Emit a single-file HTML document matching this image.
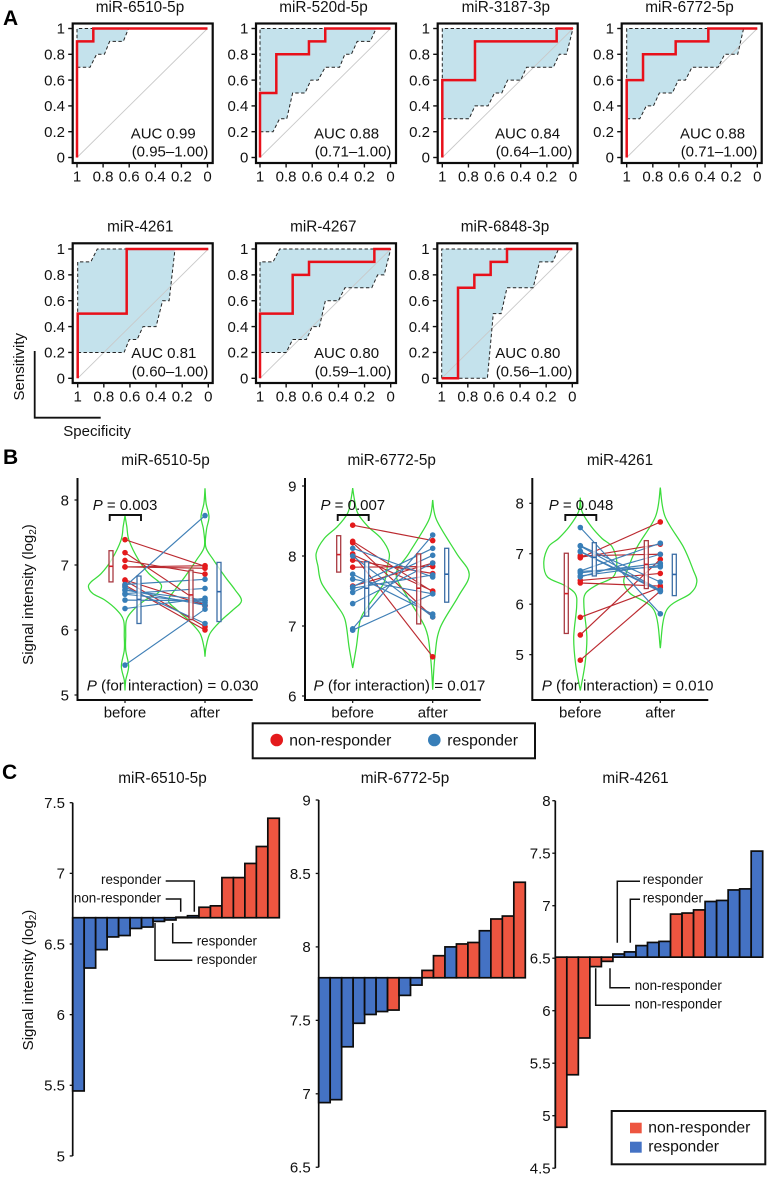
<!DOCTYPE html>
<html lang="en">
<head>
<meta charset="utf-8">
<title>miRNA ROC, signal intensity and waterfall panels</title>
<style>
html,body{margin:0;padding:0;background:#fff;width:768px;height:1177px;overflow:hidden}
svg{display:block}
text{font-family:"Liberation Sans",Arial,sans-serif;font-size:15px;fill:#111}
.panel-letter{font-weight:bold;font-size:21px;fill:#000}
.title{font-size:15.3px}
.inter{font-size:15.2px}
.ann{font-size:13.4px}
.leg{font-size:15.7px}
</style>
</head>
<body>
<svg id="figure" xmlns="http://www.w3.org/2000/svg" width="768" height="1177" viewBox="0 0 768 1177">
  <g id="marks"></g>

  <g>
    <text class="panel-letter" x="3" y="25">A</text>
    <text class="title" x="140" y="12" text-anchor="middle">miR-6510-5p</text>
    <text class="title" x="323.5" y="12" text-anchor="middle">miR-520d-5p</text>
    <text class="title" x="505.8" y="12" text-anchor="middle">miR-3187-3p</text>
    <text class="title" x="689.5" y="12" text-anchor="middle">miR-6772-5p</text>
    <text class="title" x="140.3" y="231.7" text-anchor="middle">miR-4261</text>
    <text class="title" x="323.3" y="231.7" text-anchor="middle">miR-4267</text>
    <text class="title" x="505" y="231.7" text-anchor="middle">miR-6848-3p</text>

    <text x="130.7" y="138.3">AUC 0.99</text>
    <text x="131.7" y="156.7">(0.95–1.00)</text>
    <text x="314" y="138.3">AUC 0.88</text>
    <text x="314.7" y="156.7">(0.71–1.00)</text>
    <text x="495" y="138.3">AUC 0.84</text>
    <text x="495.7" y="156.7">(0.64–1.00)</text>
    <text x="680" y="138.3">AUC 0.88</text>
    <text x="680.7" y="156.7">(0.71–1.00)</text>
    <text x="131.3" y="358">AUC 0.81</text>
    <text x="131.7" y="376.7">(0.60–1.00)</text>
    <text x="314" y="358">AUC 0.80</text>
    <text x="314.7" y="376.7">(0.59–1.00)</text>
    <text x="495.3" y="358">AUC 0.80</text>
    <text x="495.7" y="376.7">(0.56–1.00)</text>

    <path d="M34.7 351V417.7H100.7" fill="none" stroke="#111" stroke-width="1.8"/>
    <text transform="translate(24,366.7) rotate(-90)" text-anchor="middle">Sensitivity</text>
    <text x="63.3" y="436">Specificity</text>
  </g>

  <g>
    <text class="panel-letter" x="3" y="464">B</text>
    <text class="title" x="165.5" y="465" text-anchor="middle">miR-6510-5p</text>
    <text class="title" x="391.7" y="465" text-anchor="middle">miR-6772-5p</text>
    <text class="title" x="620" y="465" text-anchor="middle">miR-4261</text>
    <text transform="translate(33,594.5) rotate(-90)" text-anchor="middle">Signal intensity (log<tspan dy="3" font-size="10">2</tspan><tspan dy="-3">)</tspan></text>

    <text x="92.7" y="510"><tspan font-style="italic">P</tspan> = 0.003</text>
    <text x="320.5" y="510"><tspan font-style="italic">P</tspan> = 0.007</text>
    <text x="548.7" y="510"><tspan font-style="italic">P</tspan> = 0.048</text>
    <path d="M109.7 521V515H141V521" fill="none" stroke="#111" stroke-width="1.9"/>
    <path d="M337.7 521V515H368.7V521" fill="none" stroke="#111" stroke-width="1.9"/>
    <path d="M565.3 521V515H596.3V521" fill="none" stroke="#111" stroke-width="1.9"/>
    <text class="inter" x="86.7" y="690.7"><tspan font-style="italic">P</tspan> (for interaction) = 0.030</text>
    <text class="inter" x="313.5" y="690.7"><tspan font-style="italic">P</tspan> (for interaction) = 0.017</text>
    <text class="inter" x="541.7" y="690.7"><tspan font-style="italic">P</tspan> (for interaction) = 0.010</text>

    <g>
      <rect x="252.7" y="723.3" width="282.3" height="35" fill="#fff" stroke="#111" stroke-width="2"/>
      <circle cx="276.7" cy="740" r="6.3" fill="#e41a1c"/>
      <text class="leg" x="289.3" y="745.7">non-responder</text>
      <circle cx="434.3" cy="740" r="6.3" fill="#377eb8"/>
      <text class="leg" x="447.3" y="745.7">responder</text>
    </g>
  </g>

  <g>
    <text class="panel-letter" x="2" y="779">C</text>
    <text class="title" x="162.5" y="783" text-anchor="middle">miR-6510-5p</text>
    <text class="title" x="405" y="783" text-anchor="middle">miR-6772-5p</text>
    <text class="title" x="635.5" y="783" text-anchor="middle">miR-4261</text>
    <text transform="translate(33,980) rotate(-90)" text-anchor="middle">Signal intensity (log<tspan dy="3" font-size="10">2</tspan><tspan dy="-3">)</tspan></text>

    <g fill="none">
      <path d="M165.7 881H194.3V911.7" stroke="#111" stroke-width="1.5"/>
      <path d="M165.7 899H180.7V911.7" stroke="#111" stroke-width="1.5"/>
      <path d="M172.7 923V942.7H192.3" stroke="#111" stroke-width="1.5"/>
      <path d="M155 923V960.3H192.3" stroke="#111" stroke-width="1.5"/>
    </g>
    <text class="ann" x="161.3" y="884" text-anchor="end">responder</text>
    <text class="ann" x="161" y="902.7" text-anchor="end">non-responder</text>
    <text class="ann" x="196.7" y="945.5">responder</text>
    <text class="ann" x="196.7" y="964">responder</text>

    <g fill="none">
      <path d="M617.3 942.7V881.3H640" stroke="#111" stroke-width="1.5"/>
      <path d="M630.3 942.7V899.3H640" stroke="#111" stroke-width="1.5"/>
      <path d="M610 968.3V987.7H630" stroke="#111" stroke-width="1.5"/>
      <path d="M595.7 968.3V1005.3H630" stroke="#111" stroke-width="1.5"/>
    </g>
    <text class="ann" x="642.7" y="884">responder</text>
    <text class="ann" x="642.7" y="902.3">responder</text>
    <text class="ann" x="634.7" y="990">non-responder</text>
    <text class="ann" x="634.7" y="1008.7">non-responder</text>

    <g>
      <rect x="611.7" y="1111" width="153.6" height="53.3" fill="#fff" stroke="#111" stroke-width="2"/>
      <rect x="630" y="1122.7" width="11.7" height="10.6" fill="#ed5540"/>
      <text class="leg" x="648.3" y="1132.7">non-responder</text>
      <rect x="630" y="1141.7" width="11.7" height="11" fill="#4472c4"/>
      <text class="leg" x="648.3" y="1151.3">responder</text>
    </g>
  </g>
</svg>

<script>
/* ---------- Panel A data: ROC curves (specificity, sensitivity) ---------- */
const rocTickValues = [1, 0.8, 0.6, 0.4, 0.2, 0];
const rocTickLabels = ['1', '0.8', '0.6', '0.4', '0.2', '0'];

const roc6510RedSpec = [1, 1, 0.875, 0.875, 0];
const roc6510RedSens = [0, 0.9, 0.9, 1, 1];
const roc6510LowSpec = [1, 0.9, 0.85, 0.79, 0.75, 0.645, 0.605];
const roc6510LowSens = [0.7, 0.7, 0.8, 0.8, 0.9, 0.9, 1];
const roc6510UpSpec = [1, 1];
const roc6510UpSens = [0.7, 1];

const roc520dRedSpec = [1, 1, 0.875, 0.875, 0.625, 0.625, 0.5, 0.5, 0];
const roc520dRedSens = [0, 0.5, 0.5, 0.8, 0.8, 0.9, 0.9, 1, 1];
const roc520dLowSpec = [1, 0.9, 0.85, 0.795, 0.75, 0.655, 0.61, 0.555, 0.5, 0.39, 0.35, 0.3, 0.255, 0.155, 0.11];
const roc520dLowSens = [0.2, 0.2, 0.3, 0.3, 0.5, 0.5, 0.6, 0.6, 0.7, 0.7, 0.8, 0.8, 0.9, 0.9, 1];
const roc520dUpSpec = [1, 1];
const roc520dUpSens = [0.2, 1];

const roc3187RedSpec = [1, 1, 0.75, 0.75, 0.125, 0.125, 0];
const roc3187RedSens = [0, 0.6, 0.6, 0.9, 0.9, 1, 1];
const roc3187LowSpec = [1, 0.795, 0.75, 0.65, 0.6, 0.545, 0.5, 0.4, 0.355, 0.15, 0.105, 0.05, 0];
const roc3187LowSens = [0.3, 0.3, 0.4, 0.4, 0.5, 0.5, 0.6, 0.6, 0.7, 0.7, 0.8, 0.8, 1];
const roc3187UpSpec = [1, 1];
const roc3187UpSens = [0.3, 1];

const roc6772RedSpec = [1, 1, 0.875, 0.875, 0.625, 0.625, 0.375, 0.375, 0];
const roc6772RedSens = [0, 0.6, 0.6, 0.8, 0.8, 0.9, 0.9, 1, 1];
const roc6772LowSpec = [1, 0.9, 0.85, 0.795, 0.75, 0.65, 0.605, 0.55, 0.5, 0.3, 0.25, 0.15, 0.105];
const roc6772LowSens = [0.3, 0.3, 0.4, 0.4, 0.5, 0.5, 0.6, 0.6, 0.7, 0.7, 0.8, 0.8, 1];
const roc6772UpSpec = [1, 1];
const roc6772UpSens = [0.3, 1];

const roc4261RedSpec = [1, 1, 0.625, 0.625, 0];
const roc4261RedSens = [0, 0.5, 0.5, 1, 1];
const roc4261LowSpec = [1, 0.645, 0.605, 0.545, 0.5, 0.4, 0.35, 0.3, 0.255];
const roc4261LowSens = [0.2, 0.2, 0.3, 0.3, 0.4, 0.4, 0.6, 0.6, 1];
const roc4261UpSpec = [1, 1, 0.9, 0.85];
const roc4261UpSens = [0.2, 0.9, 0.9, 1];

const roc4267RedSpec = [1, 1, 0.75, 0.75, 0.625, 0.625, 0.125, 0.125, 0];
const roc4267RedSens = [0, 0.5, 0.5, 0.8, 0.8, 0.9, 0.9, 1, 1];
const roc4267LowSpec = [1, 0.8, 0.75, 0.645, 0.6, 0.545, 0.5, 0.4, 0.35, 0.145, 0.1, 0.05, 0];
const roc4267LowSens = [0.2, 0.2, 0.3, 0.3, 0.4, 0.4, 0.6, 0.6, 0.7, 0.7, 0.8, 0.8, 1];
const roc4267UpSpec = [1, 1, 0.9, 0.85];
const roc4267UpSens = [0.2, 0.9, 0.9, 1];

const roc6848RedSpec = [1, 0.875, 0.875, 0.75, 0.75, 0.625, 0.625, 0.5, 0.5, 0];
const roc6848RedSens = [0, 0, 0.7, 0.7, 0.8, 0.8, 0.9, 0.9, 1, 1];
const roc6848LowSpec = [1, 0.65, 0.605, 0.545, 0.5, 0.3, 0.25, 0.15, 0.105];
const roc6848LowSens = [0, 0, 0.5, 0.5, 0.7, 0.7, 0.9, 0.9, 1];
const roc6848UpSpec = [1, 1];
const roc6848UpSens = [0, 1];

/* ---------- Panel B data: paired before / after values ---------- */
const pairedCategories = ['before', 'after'];

const b1TickValues = [8, 7, 6, 5];
const b1TickLabels = ['8', '7', '6', '5'];
const b1BeforeNon = [7.39, 7.19, 7.07, 6.97, 6.97, 6.77, 6.76, 6.69];
const b1AfterNon = [6.98, 6.37, 6.86, 6.99, 6.95, 6.38, 6.05, 6.0];
const b1BeforeRes = [5.46, 6.33, 6.46, 6.55, 6.56, 6.61, 6.62, 6.66, 6.67, 6.70];
const b1AfterRes = [6.32, 6.49, 6.45, 6.42, 6.64, 6.46, 6.38, 6.10, 7.76, 6.78];
const b1BoxLow = [6.74, 6.10, 6.16, 6.13];
const b1BoxMed = [6.98, 6.47, 6.54, 6.59];
const b1BoxHigh = [7.22, 6.83, 6.92, 7.04];
const b1ViolinBeforeVal = [7.76, 7.59, 7.38, 7.08, 6.87, 6.74, 6.66, 6.56, 6.46, 6.31, 6.15, 5.90, 5.69, 5.44, 5.23, 5.07];
const b1ViolinBeforeDen = [0, 0.05, 0.11, 0.37, 0.65, 0.93, 1, 0.88, 0.55, 0.23, 0.04, 0.02, 0.02, 0.1, 0.02, 0];
const b1ViolinAfterVal = [8.18, 7.95, 7.74, 7.54, 7.28, 7.08, 6.82, 6.62, 6.45, 6.31, 6.15, 5.95, 5.74, 5.59];
const b1ViolinAfterDen = [0, 0.03, 0.11, 0.04, 0.02, 0.23, 0.55, 0.82, 1, 0.77, 0.45, 0.14, 0.03, 0];

const b2TickValues = [9, 8, 7, 6];
const b2TickLabels = ['9', '8', '7', '6'];
const b2BeforeNon = [8.44, 8.21, 8.19, 8.03, 8.02, 7.94, 7.84, 7.57];
const b2AfterNon = [8.22, 7.49, 7.13, 6.56, 7.50, 7.75, 7.85, 7.90];
const b2BeforeRes = [8.11, 8.00, 7.74, 7.67, 7.56, 7.54, 7.48, 7.32, 6.96, 6.94];
const b2AfterRes = [7.70, 7.13, 7.17, 7.46, 8.11, 7.73, 8.01, 7.90, 8.30, 7.46];
const b2BoxLow = [7.77, 7.14, 7.03, 7.34];
const b2BoxMed = [8.02, 7.54, 7.54, 7.74];
const b2BoxHigh = [8.29, 7.92, 8.03, 8.11];
const b2ViolinBeforeVal = [8.97, 8.80, 8.61, 8.42, 8.25, 8.04, 7.85, 7.61, 7.30, 7.09, 6.70, 6.40];
const b2ViolinBeforeDen = [0, 0.05, 0.14, 0.42, 0.78, 1, 0.95, 0.85, 0.44, 0.21, 0.10, 0];
const b2ViolinAfterVal = [8.80, 8.51, 8.04, 7.74, 7.42, 6.97, 6.56, 6.09];
const b2ViolinAfterDen = [0, 0.11, 0.65, 1, 0.70, 0.20, 0.06, 0];

const b3TickValues = [8, 7, 6, 5];
const b3TickLabels = ['8', '7', '6', '5'];
const b3BeforeNon = [4.89, 5.39, 5.74, 6.42, 6.47, 6.92, 6.93, 6.96];
const b3AfterNon = [6.26, 6.89, 6.33, 6.36, 6.61, 7.63, 7.19, 6.99];
const b3BeforeRes = [7.52, 7.16, 7.15, 7.05, 7.04, 6.66, 6.65, 6.62, 6.56, 6.54];
const b3AfterRes = [5.81, 6.44, 6.28, 6.27, 6.25, 7.21, 6.74, 6.81, 6.77, 6.99];
const b3BoxLow = [5.42, 6.56, 6.31, 6.17];
const b3BoxMed = [6.21, 6.93, 6.79, 6.59];
const b3BoxHigh = [7.01, 7.22, 7.26, 6.99];
const b3ViolinBeforeVal = [8.11, 7.83, 7.54, 7.30, 7.14, 6.84, 6.54, 6.38, 6.21, 5.95, 5.35, 4.82, 4.29];
const b3ViolinBeforeDen = [0, 0.05, 0.30, 0.60, 0.87, 1, 0.90, 0.45, 0.14, 0.10, 0.18, 0.13, 0];
const b3ViolinAfterVal = [8.31, 7.74, 7.14, 6.68, 6.44, 6.21, 5.88, 5.13];
const b3ViolinAfterDen = [0, 0.13, 0.63, 0.90, 1, 0.82, 0.17, 0];

/* ---------- Panel C data: sorted bars around the median ---------- */
const c1TickValues = [7.5, 7, 6.5, 6, 5.5, 5];
const c1TickLabels = ['7.5', '7', '6.5', '6', '5.5', '5'];
const c1Median = 6.686;
const c1Values = [5.46, 6.33, 6.46, 6.55, 6.56, 6.61, 6.62, 6.66, 6.67, 6.69, 6.70, 6.76, 6.77, 6.97, 6.97, 7.07, 7.19, 7.39];
const c1Groups = ['res', 'res', 'res', 'res', 'res', 'res', 'res', 'res', 'res', 'non', 'res', 'non', 'non', 'non', 'non', 'non', 'non', 'non'];

const c2TickValues = [9, 8.5, 8, 7.5, 7, 6.5];
const c2TickLabels = ['9', '8.5', '8', '7.5', '7', '6.5'];
const c2Median = 7.79;
const c2Values = [6.94, 6.96, 7.32, 7.48, 7.54, 7.56, 7.57, 7.67, 7.74, 7.84, 7.94, 8.00, 8.02, 8.03, 8.11, 8.19, 8.21, 8.44];
const c2Groups = ['res', 'res', 'res', 'res', 'res', 'res', 'non', 'res', 'res', 'non', 'non', 'res', 'non', 'non', 'res', 'non', 'non', 'non'];

const c3TickValues = [8, 7.5, 7, 6.5, 6, 5.5, 5, 4.5];
const c3TickLabels = ['8', '7.5', '7', '6.5', '6', '5.5', '5', '4.5'];
const c3Median = 6.51;
const c3Values = [4.89, 5.39, 5.74, 6.42, 6.47, 6.54, 6.56, 6.62, 6.65, 6.66, 6.92, 6.93, 6.96, 7.04, 7.05, 7.15, 7.16, 7.52];
const c3Groups = ['non', 'non', 'non', 'non', 'non', 'res', 'res', 'res', 'res', 'res', 'non', 'non', 'non', 'res', 'res', 'res', 'res', 'res'];

/* ---------- Drawing ---------- */
const SVGNS = 'http://www.w3.org/2000/svg';
const marks = document.getElementById('marks');

function make(parent, tag, attrs, content) {
  const el = document.createElementNS(SVGNS, tag);
  for (const k in attrs) el.setAttribute(k, attrs[k]);
  if (content !== undefined) el.textContent = content;
  parent.appendChild(el);
  return el;
}
function polyPath(xs, ys) {
  return xs.map((x, i) => (i ? 'L' : 'M') + x.toFixed(2) + ' ' + ys[i].toFixed(2)).join('');
}
function smoothThrough(pts, start) {
  let d = start ? 'M' + pts[0][0].toFixed(2) + ' ' + pts[0][1].toFixed(2) : '';
  for (let i = 0; i < pts.length - 1; i++) {
    const p0 = pts[Math.max(i - 1, 0)], p1 = pts[i], p2 = pts[i + 1], p3 = pts[Math.min(i + 2, pts.length - 1)];
    const c1x = p1[0] + (p2[0] - p0[0]) / 6, c1y = p1[1] + (p2[1] - p0[1]) / 6;
    const c2x = p2[0] - (p3[0] - p1[0]) / 6, c2y = p2[1] - (p3[1] - p1[1]) / 6;
    d += 'C' + c1x.toFixed(2) + ' ' + c1y.toFixed(2) + ' ' + c2x.toFixed(2) + ' ' + c2y.toFixed(2) + ' ' + p2[0].toFixed(2) + ' ' + p2[1].toFixed(2);
  }
  return d;
}

function drawRoc(key, g, redSpec, redSens, lowSpec, lowSens, upSpec, upSens) {
  const sx = s => g.x1 + (1 - s) * (g.x0 - g.x1);
  const sy = v => g.y0 + v * (g.y1 - g.y0);
  const group = make(marks, 'g', {});
  
  

  const upX = upSpec.map(sx).concat([sx(lowSpec[lowSpec.length - 1])]);
  const upY = upSens.map(sy).concat([sy(1)]);
  const lowX = lowSpec.map(sx);
  const lowY = lowSens.map(sy);

  const band = make(group, 'path', {
    d: polyPath(upX.concat(lowX.slice().reverse()), upY.concat(lowY.slice().reverse())) + 'Z',
    fill: '#c4e2ec', stroke: 'none'
  });
  
  

  const diagonal = make(group, 'line', { x1: sx(1), y1: sy(0), x2: sx(0), y2: sy(1), stroke: '#c9c9c9', 'stroke-width': 0.9 });
  
  

  const upper = make(group, 'path', { d: polyPath(upX, upY), fill: 'none', stroke: '#222', 'stroke-width': 1, 'stroke-dasharray': '3.4 2.4' });
  
  

  const lower = make(group, 'path', { d: polyPath(lowX, lowY), fill: 'none', stroke: '#222', 'stroke-width': 1, 'stroke-dasharray': '3.4 2.4' });
  
  

  const curve = make(group, 'path', { d: polyPath(redSpec.map(sx), redSens.map(sy)), fill: 'none', stroke: '#e8101a', 'stroke-width': 2.5 });
  
  

  const frame = make(group, 'rect', { x: g.left, y: g.top, width: g.right - g.left, height: g.bottom - g.top, fill: 'none', stroke: '#0c0c0c', 'stroke-width': 2.2 });
  
  

  rocTickValues.forEach((v, i) => {
    const yt = make(group, 'line', { x1: g.left - 4.5, x2: g.left, y1: sy(v), y2: sy(v), stroke: '#111', 'stroke-width': 1.4 });
    
    
    const yl = make(group, 'text', { x: g.left - 7.7, y: sy(v) + 5.2, 'text-anchor': 'end' }, rocTickLabels[i]);
    
    
    const xt = make(group, 'line', { x1: sx(v), x2: sx(v), y1: g.bottom, y2: g.bottom + 4.5, stroke: '#111', 'stroke-width': 1.4 });
    
    
    const xl = make(group, 'text', { x: sx(v), y: g.bottom + 18.7, 'text-anchor': 'middle' }, rocTickLabels[i]);
    
    
  });
}

function rocGeom(left, top, bottom, y1, y0, x1, x0) {
  return { left: left, right: left + 140, top: top, bottom: bottom, y1: y1, y0: y0, x1: x1, x0: x0 };
}

drawRoc('6510', rocGeom(72.7, 23.5, 163, 28.5, 157.5, 77, 207.5), roc6510RedSpec, roc6510RedSens, roc6510LowSpec, roc6510LowSens, roc6510UpSpec, roc6510UpSens);
drawRoc('520d', rocGeom(256, 23.5, 163, 28.5, 157.5, 260, 390.5), roc520dRedSpec, roc520dRedSens, roc520dLowSpec, roc520dLowSens, roc520dUpSpec, roc520dUpSens);
drawRoc('3187', rocGeom(437.7, 23.5, 163, 28.5, 157.5, 442.3, 573), roc3187RedSpec, roc3187RedSens, roc3187LowSpec, roc3187LowSens, roc3187UpSpec, roc3187UpSens);
drawRoc('6772', rocGeom(621.7, 23.5, 163, 28.5, 157.5, 626.7, 757.3), roc6772RedSpec, roc6772RedSens, roc6772LowSpec, roc6772LowSens, roc6772UpSpec, roc6772UpSens);
drawRoc('4261', rocGeom(72.7, 243.3, 383, 249, 378.3, 77.7, 208.3), roc4261RedSpec, roc4261RedSens, roc4261LowSpec, roc4261LowSens, roc4261UpSpec, roc4261UpSens);
drawRoc('4267', rocGeom(256, 243.3, 383, 249, 378.3, 260, 390.7), roc4267RedSpec, roc4267RedSens, roc4267LowSpec, roc4267LowSens, roc4267UpSpec, roc4267UpSens);
drawRoc('6848', rocGeom(437.3, 243.3, 383, 249, 378.3, 441.7, 572.3), roc6848RedSpec, roc6848RedSens, roc6848LowSpec, roc6848LowSens, roc6848UpSpec, roc6848UpSens);

function drawViolin(group, key, cx, sy, vals, dens) {
  const halfWidth = 36.5;
  const right = vals.map((v, i) => [cx + dens[i] * halfWidth, sy(v)]);
  const left = vals.map((v, i) => [cx - dens[i] * halfWidth, sy(v)]).reverse();
  const d = smoothThrough(right, true) + smoothThrough(left, false);
  const path = make(group, 'path', { d: d, fill: 'none', stroke: '#3bdc3b', 'stroke-width': 1.25 });
  
  
}

function drawPaired(key, g, tickValues, tickLabels, beforeNon, afterNon, beforeRes, afterRes, boxLow, boxMed, boxHigh, vbVal, vbDen, vaVal, vaDen) {
  const sy = v => g.yRef + (g.vRef - v) * g.pxPerUnit;
  const group = make(marks, 'g', {});
  
  

  drawViolin(group, key + '-before', g.xBefore, sy, vbVal, vbDen);
  drawViolin(group, key + '-after', g.xAfter, sy, vaVal, vaDen);

  const drawPairs = (before, after, color, lineColor, groupName) => {
    before.forEach((v, i) => {
      const link = make(group, 'line', { x1: g.xBefore, y1: sy(v), x2: g.xAfter, y2: sy(after[i]), stroke: lineColor, 'stroke-width': 1.15 });
      
      
    });
    before.forEach((v, i) => {
      const p1 = make(group, 'circle', { cx: g.xBefore, cy: sy(v), r: 2.8, fill: color });
      
      
      const p2 = make(group, 'circle', { cx: g.xAfter, cy: sy(after[i]), r: 2.8, fill: color });
      
      
    });
  };
  drawPairs(beforeNon, afterNon, '#e41a1c', '#bb2a30', 'non-responder');
  drawPairs(beforeRes, afterRes, '#377eb8', '#3f7fb6', 'responder');

  const boxX = [g.xBefore - 14, g.xBefore + 14, g.xAfter - 14, g.xAfter + 14];
  const boxColor = ['#a93a42', '#3c6ea6', '#a93a42', '#3c6ea6'];
  boxLow.forEach((low, i) => {
    const box = make(group, 'rect', { x: boxX[i] - 2, y: sy(boxHigh[i]), width: 4, height: sy(low) - sy(boxHigh[i]), fill: '#fff', 'fill-opacity': 0.75, stroke: boxColor[i], 'stroke-width': 1.3 });
    
    
    const med = make(group, 'line', { x1: boxX[i] - 2, x2: boxX[i] + 2, y1: sy(boxMed[i]), y2: sy(boxMed[i]), stroke: i % 2 ? '#2f66a8' : '#d02028', 'stroke-width': 1.6 });
    
    
  });

  const axes = make(group, 'path', { d: 'M' + g.axisX + ' ' + g.top + 'V' + g.bottom + 'H' + g.axisRight, fill: 'none', stroke: '#0c0c0c', 'stroke-width': 2 });
  
  

  tickValues.forEach((v, i) => {
    const t = make(group, 'line', { x1: g.axisX - 3, x2: g.axisX, y1: sy(v), y2: sy(v), stroke: '#111', 'stroke-width': 1.2 });
    
    
    const l = make(group, 'text', { x: g.axisX - 8.5, y: sy(v) + 5.3, 'text-anchor': 'end' }, tickLabels[i]);
    
    
  });
  [g.xBefore, g.xAfter].forEach((x, i) => {
    const t = make(group, 'line', { x1: x, x2: x, y1: g.bottom, y2: g.bottom + 3, stroke: '#111', 'stroke-width': 1.2 });
    
    
    const l = make(group, 'text', { x: x, y: 717.7, 'text-anchor': 'middle' }, pairedCategories[i]);
    
    
  });
}

drawPaired('6510', { axisX: 77.5, top: 478, bottom: 700, axisRight: 252.7, xBefore: 125, xAfter: 205, yRef: 500, vRef: 8, pxPerUnit: 65 },
  b1TickValues, b1TickLabels, b1BeforeNon, b1AfterNon, b1BeforeRes, b1AfterRes, b1BoxLow, b1BoxMed, b1BoxHigh, b1ViolinBeforeVal, b1ViolinBeforeDen, b1ViolinAfterVal, b1ViolinAfterDen);
drawPaired('6772', { axisX: 305, top: 478, bottom: 700, axisRight: 480.7, xBefore: 352.7, xAfter: 432.7, yRef: 486, vRef: 9, pxPerUnit: 70 },
  b2TickValues, b2TickLabels, b2BeforeNon, b2AfterNon, b2BeforeRes, b2AfterRes, b2BoxLow, b2BoxMed, b2BoxHigh, b2ViolinBeforeVal, b2ViolinBeforeDen, b2ViolinAfterVal, b2ViolinAfterDen);
drawPaired('4261', { axisX: 532.3, top: 478, bottom: 700, axisRight: 708.3, xBefore: 580.3, xAfter: 660.3, yRef: 503.3, vRef: 8, pxPerUnit: 50.45 },
  b3TickValues, b3TickLabels, b3BeforeNon, b3AfterNon, b3BeforeRes, b3AfterRes, b3BoxLow, b3BoxMed, b3BoxHigh, b3ViolinBeforeVal, b3ViolinBeforeDen, b3ViolinAfterVal, b3ViolinAfterDen);

function drawBars(key, g, tickValues, tickLabels, median, values, groups) {
  const sy = v => g.yRef + (g.vRef - v) * g.pxPerUnit;
  const group = make(marks, 'g', {});
  
  
  const barW = (g.barsRight - g.axisX) / values.length;
  values.forEach((v, i) => {
    const top = Math.min(sy(v), sy(median));
    const h = Math.abs(sy(v) - sy(median));
    const bar = make(group, 'rect', { x: g.axisX + i * barW, y: top, width: barW, height: h, fill: groups[i] === 'non' ? '#ed5540' : '#4472c4', stroke: '#0c0c0c', 'stroke-width': 1.7 });
    
    
  });
  const axis = make(group, 'line', { x1: g.axisX, x2: g.axisX, y1: sy(tickValues[0]), y2: sy(tickValues[tickValues.length - 1]), stroke: '#0c0c0c', 'stroke-width': 1.7 });
  
  
  tickValues.forEach((v, i) => {
    const t = make(group, 'line', { x1: g.axisX - 3, x2: g.axisX, y1: sy(v), y2: sy(v), stroke: '#111', 'stroke-width': 1.3 });
    
    
    const l = make(group, 'text', { x: g.axisX - g.labelGap, y: sy(v) + 5.3, 'text-anchor': 'end' }, tickLabels[i]);
    
    
  });
}

drawBars('6510', { axisX: 72.7, barsRight: 279.3, yRef: 802.7, vRef: 7.5, pxPerUnit: 141.3, labelGap: 7.7 }, c1TickValues, c1TickLabels, c1Median, c1Values, c1Groups);
drawBars('6772', { axisX: 318.7, barsRight: 525.3, yRef: 800, vRef: 9, pxPerUnit: 146.9, labelGap: 8 }, c2TickValues, c2TickLabels, c2Median, c2Values, c2Groups);
drawBars('4261', { axisX: 555.3, barsRight: 762.7, yRef: 800.7, vRef: 8, pxPerUnit: 105, labelGap: 4.7 }, c3TickValues, c3TickLabels, c3Median, c3Values, c3Groups);
</script>
</body>
</html>
